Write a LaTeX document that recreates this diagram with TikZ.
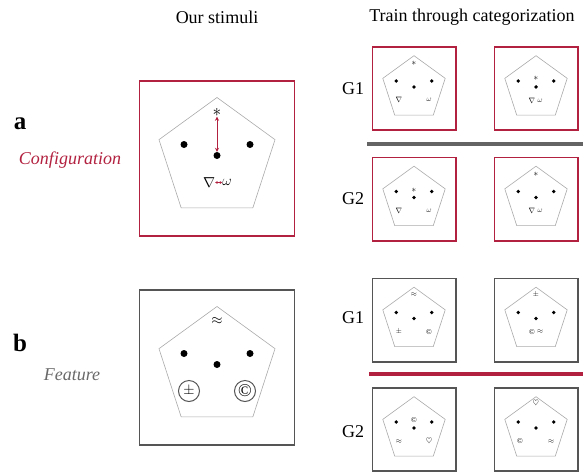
\documentclass[tikz,border=0pt]{standalone}
\usepackage{amsmath}
\usepackage{amssymb}
\usepackage{fontspec}
\setmainfont{Liberation Serif}
\usetikzlibrary{arrows.meta}

\definecolor{cfgred}{RGB}{178,34,64}
\definecolor{framegray}{RGB}{85,85,85}
\definecolor{pentagray}{RGB}{170,170,170}
\definecolor{rulegray}{RGB}{100,100,100}
\definecolor{labelgray}{RGB}{105,105,105}

\tikzset{
  cfgbox/.style = {draw=cfgred, line width=1.6pt, minimum size=155pt, inner sep=0pt},
  featbox/.style = {draw=framegray, line width=1.6pt, minimum size=155pt, inner sep=0pt},
  penta/.style = {draw=pentagray, line width=0.6pt},
  stimdot/.style = {circle, fill=black, inner sep=0pt, minimum size=7pt},
  sym/.style = {inner sep=0pt, font=\fontsize{14}{14}\selectfont},
  starsym/.style = {inner sep=0pt, font=\fontsize{19}{19}\selectfont},
  ringsym/.style = {sym, circle, draw=framegray, line width=1pt, minimum size=21pt},
  cfgarrow/.style = {draw=cfgred, line width=1pt,
    {Stealth[length=4pt,width=4pt]}-{Stealth[length=4pt,width=4pt]}},
  tinyarrow/.style = {draw=cfgred, line width=0.8pt,
    {Stealth[length=2.5pt,width=3pt]}-{Stealth[length=2.5pt,width=3pt]}},
  heading/.style = {font=\fontsize{18}{18}\selectfont},
  grouplabel/.style = {font=\fontsize{18}{18}\selectfont},
  panelletter/.style = {font=\fontsize{25}{25}\selectfont\bfseries},
  condition/.style = {font=\fontsize{18}{18}\selectfont\itshape},
  thumb/.style = {scale=0.538, transform shape}
}

% box, pentagon and the three dots every stimulus shares
\newcommand\stimframe[2]{%
  \node[#1] (#2-box) at (0,0) {};
  \draw[penta] (-90:61) -- (-18:61) -- (54:61) -- (126:61) -- (198:61) -- cycle;
  \node[stimdot] (#2-left) at (-33,-14) {};
  \node[stimdot] (#2-right) at (33,-14) {};
  \node[stimdot] (#2-mid) at (0,-3) {};
}

\begin{document}
\begin{tikzpicture}[x=1pt, y=-1pt]
\useasboundingbox (0,0) rectangle (583,472);

\node[heading] (ours) at (217,17) {Our stimuli};
\node[heading] (train) at (472,17) {Train through categorization};

% a: configuration
\node[panelletter] (lbl-a) at (20,124) {a};
\node[condition, text=cfgred] (lbl-config) at (70,160) {Configuration};

\begin{scope}[shift={(217,158.5)}]
  \stimframe{cfgbox}{a}
  \node[starsym] (a-star) at (0,-46) {$\ast$};
  \node[sym] (a-nabla) at (-8,24) {$\nabla$};
  \node[sym] (a-omega) at (10,24) {$\omega$};
  \draw[cfgarrow] (a-star) -- (a-mid);
  \draw[tinyarrow] (a-nabla) -- (a-omega);
\end{scope}

\node[grouplabel] (cg1) at (353,89) {G1};
\node[grouplabel] (cg2) at (353,199) {G2};

\begin{scope}[shift={(414,88.5)}, thumb]
  \stimframe{cfgbox}{cg1a}
  \node[starsym] (cg1a-star) at (0,-47) {$\ast$};
  \node[sym] (cg1a-nabla) at (-28,21) {$\nabla$};
  \node[sym] (cg1a-omega) at (28,21) {$\omega$};
\end{scope}
\begin{scope}[shift={(536,88.5)}, thumb]
  \stimframe{cfgbox}{cg1b}
  \node[starsym] (cg1b-star) at (0,-18) {$\ast$};
  \node[sym] (cg1b-nabla) at (-7.5,23) {$\nabla$};
  \node[sym] (cg1b-omega) at (7.5,23) {$\omega$};
\end{scope}

\draw[rulegray, line width=3.5pt] (367,144) -- (583,144);

\begin{scope}[shift={(414,199)}, thumb]
  \stimframe{cfgbox}{cg2a}
  \node[starsym] (cg2a-star) at (0,-17) {$\ast$};
  \node[sym] (cg2a-nabla) at (-28,22) {$\nabla$};
  \node[sym] (cg2a-omega) at (28,22) {$\omega$};
\end{scope}
\begin{scope}[shift={(536,199)}, thumb]
  \stimframe{cfgbox}{cg2b}
  \node[starsym] (cg2b-star) at (0,-46.5) {$\ast$};
  \node[sym] (cg2b-nabla) at (-7.5,22) {$\nabla$};
  \node[sym] (cg2b-omega) at (7.5,22) {$\omega$};
\end{scope}

% b: feature
\node[panelletter] (lbl-b) at (20,343) {b};
\node[condition, text=labelgray] (lbl-feature) at (72,375) {Feature};

\begin{scope}[shift={(217,367.5)}]
  \stimframe{featbox}{b}
  \node[sym] (b-approx) at (0,-46) {$\approx$};
  \node[ringsym] (b-pm) at (-28,23.5) {$\pm$};
  \node[ringsym, font=\fontsize{18}{18}\selectfont] (b-copy) at (28,23.5) {\textcopyright};
\end{scope}

\node[grouplabel] (fg1) at (353,318) {G1};
\node[grouplabel] (fg2) at (353,432) {G2};

\begin{scope}[shift={(414,320)}, thumb]
  \stimframe{featbox}{fg1a}
  \node[sym] (fg1a-approx) at (0,-46.5) {$\approx$};
  \node[sym] (fg1a-pm) at (-28,22) {$\pm$};
  \node[sym] (fg1a-copy) at (28,22) {\textcopyright};
\end{scope}
\begin{scope}[shift={(536,320)}, thumb]
  \stimframe{featbox}{fg1b}
  \node[sym] (fg1b-pm) at (0,-46.5) {$\pm$};
  \node[sym] (fg1b-copy) at (-7.5,22) {\textcopyright};
  \node[sym] (fg1b-approx) at (7.5,22) {$\approx$};
\end{scope}

\draw[cfgred, line width=3.5pt] (369,374) -- (583,374);

\begin{scope}[shift={(414,429.5)}, thumb]
  \stimframe{featbox}{fg2a}
  \node[sym] (fg2a-copy) at (0,-17) {\textcopyright};
  \node[sym] (fg2a-approx) at (-28,22) {$\approx$};
  \node[sym] (fg2a-heart) at (28,22) {$\heartsuit$};
\end{scope}
\begin{scope}[shift={(536,429.5)}, thumb]
  \stimframe{featbox}{fg2b}
  \node[sym] (fg2b-heart) at (0,-48) {$\heartsuit$};
  \node[sym] (fg2b-copy) at (-30,22) {\textcopyright};
  \node[sym] (fg2b-approx) at (28,22) {$\approx$};
\end{scope}

\end{tikzpicture}
\end{document}
